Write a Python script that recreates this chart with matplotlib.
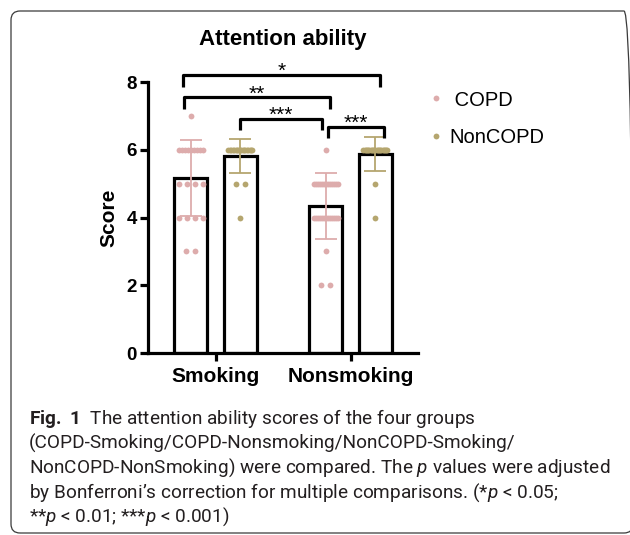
import matplotlib
matplotlib.use('Agg')
import matplotlib.pyplot as plt
import numpy as np
from matplotlib.lines import Line2D
from matplotlib.patches import FancyBboxPatch
from matplotlib.transforms import IdentityTransform

plt.rcParams['font.family'] = ['Liberation Sans', 'DejaVu Sans']
plt.rcParams['mathtext.fontset'] = 'custom'
plt.rcParams['mathtext.rm'] = 'Roboto'
plt.rcParams['mathtext.it'] = 'Roboto:italic'
plt.rcParams['mathtext.bf'] = 'Roboto:bold'

# ---------------- data ----------------
groups = ['Smoking', 'Nonsmoking']
series = ['COPD', 'NonCOPD']
colors = ['#DDACAC', '#B5A66F']

copd_means = [5.16, 4.34]
copd_sds = [1.12, 0.98]
noncopd_means = [5.81, 5.87]
noncopd_sds = [0.50, 0.50]

# individual scores (score levels and number of subjects at each level)
copd_smoking_scores = [7, 6, 5, 4, 3]
copd_smoking_counts = [1, 9, 4, 4, 2]
noncopd_smoking_scores = [6, 5, 4]
noncopd_smoking_counts = [18, 2, 1]
copd_nonsmoking_scores = [6, 5, 4, 3, 2]
copd_nonsmoking_counts = [1, 13, 13, 1, 2]
noncopd_nonsmoking_scores = [6, 5, 4]
noncopd_nonsmoking_counts = [21, 1, 1]

yticks = [0, 2, 4, 6, 8]

# significance brackets: (x left, x right, bar y, leg bottom y, label)
bracket_x1 = [-0.24, -0.23, 0.181, 0.833]
bracket_x2 = [1.218, 0.848, 0.787, 1.248]
bracket_y = [8.21, 7.55, 6.91, 6.68]
bracket_leg = [7.86, 7.19, 6.58, 6.34]
bracket_lbl = ['*', '**', '***', '***']

caption_lines = [
    r"$\mathbf{Fig.\ 1}$  The attention ability scores of the four groups",
    "(COPD-Smoking/COPD-Nonsmoking/NonCOPD-Smoking/",
    r"NonCOPD-NonSmoking) were compared. The $p$ values were adjusted",
    r"by Bonferroni’s correction for multiple comparisons. (*$p$ < 0.05;",
    r"**$p$ < 0.01; ***$p$ < 0.001)",
]

# ---------------- figure ----------------
W, H = 630, 535
fig = plt.figure(figsize=(W / 100, H / 100), dpi=100)
ax = fig.add_axes([148 / W, (H - 353) / H, 270 / W, 271 / H])

x = np.arange(len(groups))
off = 0.185
bw = 0.245
LW = 2.3

all_means = [copd_means, noncopd_means]
all_sds = [copd_sds, noncopd_sds]
dots = [
    [(copd_smoking_scores, copd_smoking_counts), (copd_nonsmoking_scores, copd_nonsmoking_counts)],
    [(noncopd_smoking_scores, noncopd_smoking_counts), (noncopd_nonsmoking_scores, noncopd_nonsmoking_counts)],
]

max_span = 0.178
step = 0.06
for si, s in enumerate(series):
    xs = x + (-off if si == 0 else off)
    ax.bar(xs, all_means[si], width=bw, color='white', edgecolor='black',
           linewidth=LW, zorder=1)
    for gi in range(len(groups)):
        scores, counts = dots[si][gi]
        px, py = [], []
        for sc, k in zip(scores, counts):
            sp = step if k < 2 else min(step, max_span / (k - 1))
            o = (np.arange(k) - (k - 1) / 2) * sp
            px.extend(xs[gi] + o)
            py.extend([sc] * k)
        ax.plot(px, py, 'o', ms=4.2, color=colors[si], mec='none', zorder=3,
                clip_on=False)
    ax.errorbar(xs, all_means[si], yerr=all_sds[si], fmt='none',
                ecolor=colors[si], elinewidth=1.3, capsize=8, capthick=1.3,
                zorder=2)

for x1, x2, yh, yl, lab in zip(bracket_x1, bracket_x2, bracket_y, bracket_leg, bracket_lbl):
    ax.plot([x1, x1, x2, x2], [yl, yh, yh, yl], color='black', lw=LW,
            clip_on=False, solid_joinstyle='round', solid_capstyle='butt', zorder=4)
    fs = 15
    ax.annotate(lab, xy=((x1 + x2) / 2, yh), xytext=(0, 7.2 - 0.585 * fs),
                textcoords='offset points', ha='center', va='baseline',
                fontsize=fs, annotation_clip=False)

ax.set_xlim(-0.5, 1.5)
ax.set_ylim(0, 8)
ax.set_yticks(yticks)
ax.set_xticks(x)
ax.set_xticklabels(groups, fontsize=15, fontweight='bold')
for lab in ax.get_yticklabels():
    lab.set_fontweight('bold')
    lab.set_fontsize(13.5)
ax.spines['top'].set_visible(False)
ax.spines['right'].set_visible(False)
for sp in ('left', 'bottom'):
    ax.spines[sp].set_linewidth(LW)
ax.tick_params(axis='y', length=6, width=LW, pad=2)
ax.tick_params(axis='x', length=6, width=LW, pad=4)
ax.set_ylabel('Score', fontsize=15, fontweight='bold', va='center')
ax.yaxis.set_label_coords(-39 / 270, 0.5)

fig.text(283 / W, 1 - 39 / H, 'Attention ability', ha='center', va='center',
         fontsize=16, fontweight='bold')

handles = [Line2D([], [], ls='', marker='o', ms=4.2, color=c, mec='none') for c in colors]
ax.legend(handles, [' COPD', 'NonCOPD'], loc='upper left',
          bbox_to_anchor=(430 / W, 1 - 90.5 / H), bbox_transform=fig.transFigure,
          frameon=False, fontsize=14.5, handlelength=0.6, handletextpad=0.35,
          borderpad=0, borderaxespad=0, labelspacing=0.9)

# frame
frame = FancyBboxPatch((11, H - 533), 622, 522, boxstyle='round,pad=0,rounding_size=9',
                       transform=IdentityTransform(), fill=False, ec='#3a3a3a', lw=0.9)
fig.add_artist(frame)

# caption (fit font size to the reference line width)
fig.canvas.draw()
r = fig.canvas.get_renderer()
probe = fig.text(0, 0, caption_lines[2], fontsize=12, family='Roboto')
wpx = probe.get_window_extent(r).width
probe.remove()
cfs = 12 * 579 / wpx
baselines = [424, 448.5, 473, 497.5, 522]
for line, b in zip(caption_lines, baselines):
    fig.text(29 / W, 1 - b / H, line, fontsize=cfs, family='Roboto',
             ha='left', va='baseline', color='#231f20')

fig.savefig('out.png', dpi=100)
